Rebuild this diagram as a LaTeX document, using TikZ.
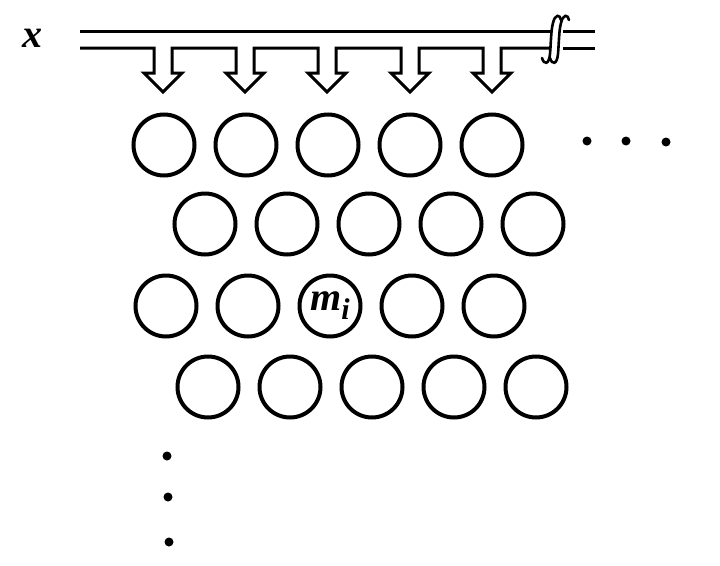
\documentclass[tikz,border=0pt]{standalone}
\usepackage{fontspec}
\setmainfont{Liberation Serif}
\begin{document}
\begin{tikzpicture}[x=1pt,y=-1pt,
  line join=miter,
  cell/.style={circle,draw,line width=4pt,minimum size=61pt,inner sep=0pt},
  bar/.style={line width=3pt},
  dot/.style={fill,circle,inner sep=0pt,minimum size=9pt},
  lbl/.style={font=\fontsize{40}{42}\selectfont\bfseries\itshape}]
\useasboundingbox (0,0) rectangle (720,565);
% label
\node[lbl] (xl) at (33,38) {x};
% top bus line
\coordinate (tl) at (80,31);
\coordinate (tm) at (551,31);
\coordinate (tr1) at (563,31);
\coordinate (tr) at (595,31);
\draw[bar] (tl) -- (tm);
\draw[bar] (tr1) -- (tr);
% lower line with hollow arrows
\draw[bar] (80,48)
  \foreach \c in {163,245,327,410,492}{
    -- (\c-9,48) -- (\c-9,73) -- (\c-19,73) -- (\c,92) -- (\c+19,73) -- (\c+9,73) -- (\c+9,48)
  } -- (551,48);
\draw[bar] (563,48) -- (595,48);
% break mark
\foreach \d in {0,8}{
  \draw[line width=2.6pt,line cap=round] (542+\d,58) .. controls (544+\d,65) and (549+\d,65) .. (550+\d,54)
    .. controls (551+\d,42) and (551+\d,30) .. (553+\d,23)
    .. controls (555+\d,14) and (560+\d,14) .. (561+\d,20);
}
% circles
\foreach \i [count=\k from 0] in {1,...,5}{
  \node[cell] (a\i) at (164+82*\k,145) {};
  \node[cell] (b\i) at (205+82*\k,224) {};
  \node[cell] (d\i) at (208+82*\k,387) {};
}
\node[cell] (c1) at (166,306) {};
\node[cell] (c2) at (248,306) {};
\node[cell,lbl] (c3) at (330,306) {m\raisebox{-9pt}{\fontsize{30}{32}\selectfont i}};
\node[cell] (c4) at (412,306) {};
\node[cell] (c5) at (494,306) {};
% ellipsis dots
\node[dot] (r1) at (587,141) {};
\node[dot] (r2) at (626,141) {};
\node[dot] (r3) at (666,142) {};
\node[dot] (v1) at (167,456) {};
\node[dot] (v2) at (168,497) {};
\node[dot] (v3) at (169,542) {};
\end{tikzpicture}
\end{document}
